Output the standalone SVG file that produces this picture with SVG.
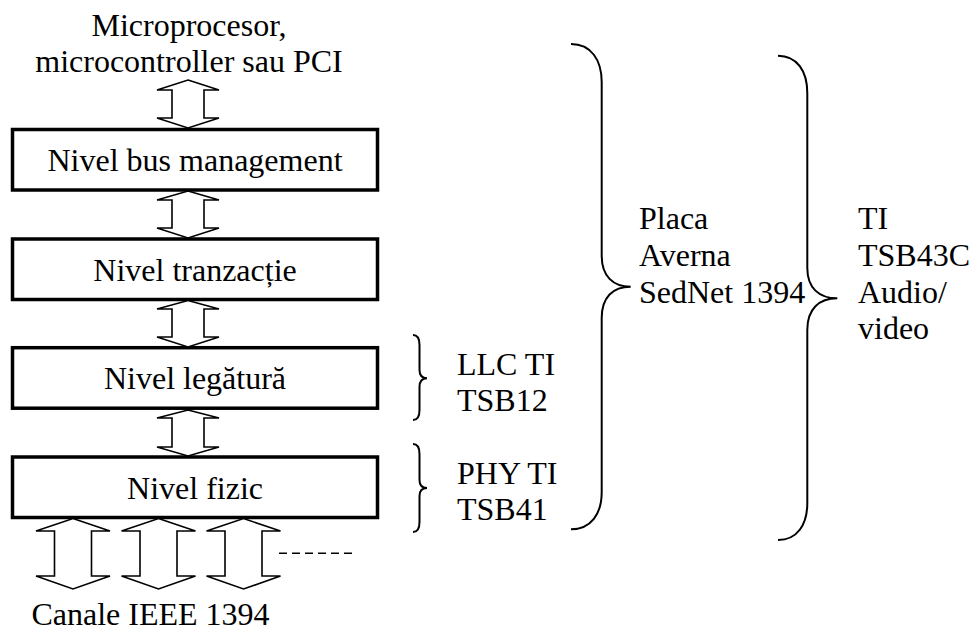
<svg xmlns="http://www.w3.org/2000/svg" width="969" height="633" viewBox="0 0 969 633">
  <style>
    .txt { font-family: "Liberation Serif", "Times New Roman", serif; font-size: 32px; fill: #000; }
    .mid { text-anchor: middle; }
    .box { fill: #fff; stroke: #000; stroke-width: 3.5; }
    .arr { fill: #fff; stroke: #000; stroke-width: 1.6; stroke-linejoin: miter; }
    .brace { fill: none; stroke: #000; stroke-width: 2; }
    .dash { stroke: #000; stroke-width: 1.6; stroke-dasharray: 8 5; }
  </style>
  <rect width="969" height="633" fill="#fff"/>

  <!-- host interface label -->
  <g id="host">
    <text class="txt mid" x="189" y="36">Microprocesor,</text>
    <text class="txt mid" x="189" y="72">microcontroller sau PCI</text>
  </g>

  <!-- protocol layers -->
  <g id="layer-bus">
    <rect class="box" x="12.5" y="129.5" width="365" height="60.5"/>
    <text class="txt mid" x="195" y="171">Nivel bus management</text>
  </g>
  <g id="layer-tranzactie">
    <rect class="box" x="12.5" y="239" width="365" height="60.5"/>
    <text class="txt mid" x="195" y="280.5">Nivel tranzacție</text>
  </g>
  <g id="layer-legatura">
    <rect class="box" x="12.5" y="347.7" width="365" height="60.5"/>
    <text class="txt mid" x="195" y="389">Nivel legătură</text>
  </g>
  <g id="layer-fizic">
    <rect class="box" x="12.5" y="457" width="365" height="60.5"/>
    <text class="txt mid" x="195" y="498.5">Nivel fizic</text>
  </g>

  <!-- bidirectional block arrows between layers -->
  <g id="connectors">
    <path class="arr" d="M188,80 L219,90 L204,90 L204,118 L219,118 L188,128 L157,118 L172,118 L172,90 L157,90 Z"/>
    <path class="arr" d="M188,191 L219,200 L204,200 L204,228 L219,228 L188,238 L157,228 L172,228 L172,200 L157,200 Z"/>
    <path class="arr" d="M188,300.5 L219,309 L204,309 L204,337 L219,337 L188,347 L157,337 L172,337 L172,309 L157,309 Z"/>
    <path class="arr" d="M188,410 L219,418 L204,418 L204,447 L219,447 L188,456 L157,447 L172,447 L172,418 L157,418 Z"/>
    <path class="arr" d="M73,518.5 L110,531 L91.5,531 L91.5,576 L110,576 L73,589 L36,576 L54.5,576 L54.5,531 L36,531 Z"/>
    <path class="arr" d="M158.5,518.5 L195.5,531 L177,531 L177,576 L195.5,576 L158.5,589 L121.5,576 L140,576 L140,531 L121.5,531 Z"/>
    <path class="arr" d="M243.5,518.5 L280.5,531 L262,531 L262,576 L280.5,576 L243.5,589 L206.5,576 L225,576 L225,531 L206.5,531 Z"/>
    <line class="dash" x1="279" y1="553.3" x2="354" y2="553.3"/>
  </g>

  <g id="channels">
    <text class="txt mid" x="150.5" y="625">Canale IEEE 1394</text>
  </g>

  <!-- chip groupings -->
  <g id="llc">
    <path class="brace" d="M413,335 C417.5,335 419.5,338 419.5,345 L419.5,370 C419.5,375 422,378.3 427,378.3 C422,378.3 419.5,381.5 419.5,387 L419.5,410 C419.5,417 417.5,420 413,420"/>
    <text class="txt" x="457" y="375">LLC TI</text>
    <text class="txt" x="457" y="410.7">TSB12</text>
  </g>
  <g id="phy">
    <path class="brace" d="M413,444 C417.5,444 419.5,447 419.5,454 L419.5,480 C419.5,485 422,488 427,488 C422,488 419.5,491 419.5,496 L419.5,522 C419.5,529 417.5,532 413,532"/>
    <text class="txt" x="457" y="484">PHY TI</text>
    <text class="txt" x="457" y="520">TSB41</text>
  </g>
  <g id="averna">
    <path class="brace" d="M571,44 C591,44 601.7,60 601.7,82 L601.7,256 C601.7,276 613,286.7 630.7,286.7 C613,286.7 601.7,297 601.7,318 L601.7,492 C601.7,514 591,529.3 571,529.3"/>
    <text class="txt" x="639" y="229.3">Placa</text>
    <text class="txt" x="639" y="266">Averna</text>
    <text class="txt" x="639" y="302.7">SedNet 1394</text>
  </g>
  <g id="tsb43c">
    <path class="brace" d="M778,55.7 C797,55.7 807.3,71 807.3,93 L807.3,268 C807.3,288 819,298.3 837.3,298.3 C819,298.3 807.3,309 807.3,330 L807.3,503 C807.3,525 797,540 778,540"/>
    <text class="txt" x="858" y="229.3">TI</text>
    <text class="txt" x="858" y="266">TSB43C</text>
    <text class="txt" x="858" y="302.7">Audio/</text>
    <text class="txt" x="858" y="339.4">video</text>
  </g>
</svg>
